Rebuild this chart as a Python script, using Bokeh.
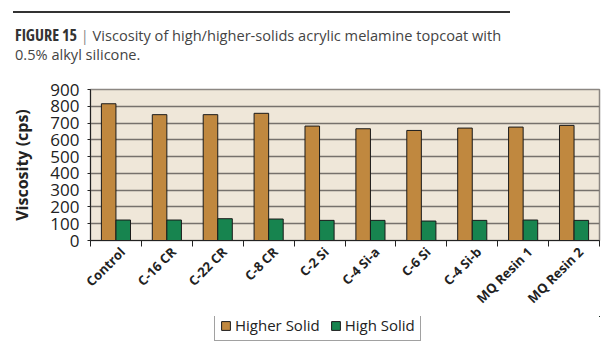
from math import pi
from bokeh.plotting import figure
from bokeh.layouts import column
from bokeh.models import (Range1d, FixedTicker, Legend, LegendItem, Div,
                          ColumnDataSource)
from bokeh.transform import dodge
from bokeh.embed import file_html
from bokeh.resources import INLINE

title_bold = "FIGURE 15"
title_text = "Viscosity of high/higher-solids acrylic melamine topcoat with"
title_text2 = "0.5% alkyl silicone."
categories = ["Control", "C-16 CR", "C-22 CR", "C-8 CR", "C-2 Si", "C-4 Si-a",
              "C-6 Si", "C-4 Si-b", "MQ Resin 1", "MQ Resin 2"]
higher_solid = [815, 750, 750, 758, 682, 666, 656, 670, 676, 686]
high_solid = [122, 122, 130, 128, 120, 120, 116, 120, 122, 120]
y_ticks = [0, 100, 200, 300, 400, 500, 600, 700, 800, 900]
series_names = ["Higher Solid", "High Solid"]

TAN = "#C0883F"
GREEN = "#17844F"
FONT = "Open Sans"

n = len(categories)
xc = [i + 0.5 for i in range(n)]
src = ColumnDataSource(dict(x=xc, higher=higher_solid, high=high_solid))

# ---- header (rule + caption) ----
header = Div(
    text=(
        '<div style="margin:11px 0 0 13px;width:497px;height:0;'
        'border-top:2px solid #333;"></div>'
        '<div style="margin:13px 0 0 15px;white-space:nowrap;'
        "font-family:'Open Sans';font-size:14.6px;line-height:19px;color:#444;\">"
        "<b style=\"font-family:'Liberation Sans Narrow','Open Sans';"
        f'font-stretch:condensed;font-size:16px;color:#333;">{title_bold}</b>'
        f'<span style="color:#888;">&nbsp;|&nbsp;</span>{title_text}<br>'
        f'{title_text2}</div>'
    ),
    width=615, height=64, margin=0,
)

# ---- main chart ----
p = figure(width=615, height=252, output_backend="svg", toolbar_location=None,
           x_range=Range1d(0, n), y_range=Range1d(y_ticks[0], y_ticks[-1]),
           min_border_left=90, min_border_right=16, min_border_top=25,
           min_border_bottom=75, background_fill_color="#EFE7D9",
           border_fill_color="white", margin=0)
p.outline_line_color = "#8C8782"
p.outline_line_width = 1.5

bar_kw = dict(width=0.286, line_color="#1a1a1a", line_width=1)
p.vbar(x=dodge("x", -0.143, range=p.x_range), top="higher", source=src,
       fill_color=TAN, **bar_kw)
p.vbar(x=dodge("x", 0.143, range=p.x_range), top="high", source=src,
       fill_color=GREEN, **bar_kw)

p.xgrid.visible = False
p.ygrid.ticker = FixedTicker(ticks=y_ticks)
p.ygrid.grid_line_color = "#76716C"
p.ygrid.grid_line_width = 1.5

# category labels sit slightly right of the category centre, as in the source
label_pos = [x + 0.13 for x in xc]
xa = p.xaxis[0]
xa.ticker = FixedTicker(ticks=label_pos, minor_ticks=list(range(n + 1)))
xa.major_label_overrides = {x: c for x, c in zip(label_pos, categories)}
xa.major_tick_out = 0
xa.major_tick_in = 0
xa.minor_tick_out = 6
xa.minor_tick_in = 0
xa.minor_tick_line_color = "#222222"
xa.axis_line_color = "#222222"
xa.major_label_orientation = pi / 4
xa.major_label_text_font = FONT
xa.major_label_text_font_style = "bold"
xa.major_label_text_font_size = "13px"
xa.major_label_text_color = "#222222"
xa.major_label_standoff = 3

ya = p.yaxis[0]
ya.ticker = FixedTicker(ticks=y_ticks)
ya.minor_tick_line_color = None
ya.major_tick_out = 3
ya.major_tick_in = 0
ya.major_tick_line_color = "#222222"
ya.axis_line_color = "#222222"
ya.major_label_text_font = FONT
ya.major_label_text_font_size = "17px"
ya.major_label_text_color = "#222222"
ya.major_label_standoff = 8
ya.axis_label = "Viscosity (cps)"
ya.axis_label_text_font = FONT
ya.axis_label_text_font_style = "bold"
ya.axis_label_text_font_size = "16px"
ya.axis_label_text_color = "#222222"
ya.axis_label_standoff = 14

# ---- legend strip (same series, out of its view; only the legend shows) ----
lg = figure(width=615, height=34, output_backend="svg", toolbar_location=None,
            x_range=Range1d(-100, -90), y_range=Range1d(-9000, -8000),
            x_axis_location=None, y_axis_location=None,
            min_border=0, margin=0, background_fill_color="white",
            border_fill_color="white")
lg.outline_line_color = None
lg.grid.visible = False
l1 = lg.vbar(x=dodge("x", -0.143, range=lg.x_range), top="higher", source=src,
             fill_color=TAN, **bar_kw)
l2 = lg.vbar(x=dodge("x", 0.143, range=lg.x_range), top="high", source=src,
             fill_color=GREEN, **bar_kw)
legend = Legend(items=[LegendItem(label=series_names[0], renderers=[l1]),
                       LegendItem(label=series_names[1], renderers=[l2])],
                orientation="horizontal", location=(124, 9),
                border_line_color="#444444", border_line_width=1,
                background_fill_color="white", background_fill_alpha=1,
                label_text_font=FONT, label_text_font_size="15px",
                label_text_color="#222222", glyph_width=11, glyph_height=11,
                label_standoff=4, spacing=10, padding=5, margin=0)
lg.add_layout(legend)

layout = column(header, p, lg, spacing=0, margin=0)
open("out.html", "w").write(file_html(layout, INLINE))
